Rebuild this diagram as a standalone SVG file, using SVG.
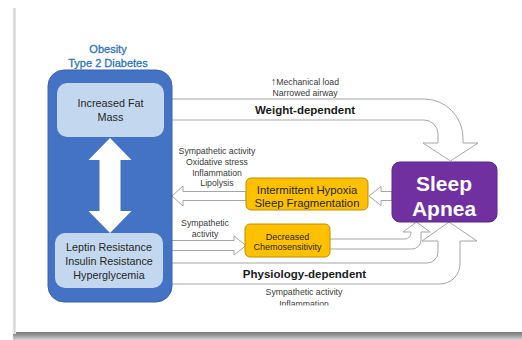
<svg xmlns="http://www.w3.org/2000/svg" width="522" height="340" viewBox="0 0 522 340">
<defs>
<style>
text{font-family:"Liberation Sans",Arial,sans-serif}
.lbl{font-size:8.7px;fill:#3a3a3a;text-anchor:middle}
.conn{fill:#fff;stroke:#a6a6a6;stroke-width:1}
.gold{fill:#ffc000;stroke:#bf9000;stroke-width:1}
.gt{fill:#262626;text-anchor:middle}
.bt{font-size:11.5px;font-weight:bold;fill:#1a1a1a;text-anchor:middle}
.inner{fill:#c3d8ef}
.it{font-size:10.8px;fill:#262626;text-anchor:middle}
</style>
<linearGradient id="shB" x1="0" y1="0" x2="0" y2="1">
<stop offset="0" stop-color="#6d6d6d"/>
<stop offset="0.5" stop-color="#9a9a9a"/>
<stop offset="1" stop-color="#d8d8d8"/>
</linearGradient>
<linearGradient id="shL" x1="0" y1="0" x2="1" y2="0">
<stop offset="0" stop-color="#ffffff"/>
<stop offset="0.6" stop-color="#d4d4d4"/>
<stop offset="1" stop-color="#ececec"/>
</linearGradient>
<clipPath id="cut"><rect x="200" y="280" width="200" height="25.5"/></clipPath>
</defs>
<rect x="0" y="0" width="522" height="340" fill="#ffffff"/>
<g id="card">
<rect x="13" y="331" width="509" height="9" fill="url(#shB)"/>
<rect x="12" y="8" width="4" height="326" fill="url(#shL)"/>
<rect x="16" y="0" width="506" height="332" fill="#ffffff"/>
</g>
<g id="connectors">
<path class="conn" d="M170,99 H424 A39,39 0 0 1 463,138 V143 H478 L450.5,161 L423,143 H438 V134 A14,14 0 0 0 424,120 H170 Z"/>
<path class="conn" d="M170,263 H427 A11,11 0 0 0 438,252 V241 H422 L449,222 L477,241 H460 V264 A20,20 0 0 1 440,284 H170 Z"/>
<path class="conn" d="M329,239 H405 A6,6 0 0 0 411,233 V232 H403 L416.5,222 L430,232 H421 V240 A9,9 0 0 1 412,249 H329 Z"/>
<path class="conn" d="M246,191.5 H183 V186 L172,196 L183,206 V200.5 H246 Z"/>
<path class="conn" d="M392,191.5 H381 V186.5 L369,196 L381,205.5 V200.5 H392 Z"/>
<path class="conn" d="M170,240.5 H234 V236 L246,245.5 L234,255 V250.5 H170 Z"/>
<text x="305" y="84.5" class="lbl"><tspan font-size="10.5">↑</tspan>Mechanical load</text>
<text x="305" y="95.5" class="lbl">Narrowed airway</text>
<text x="305" y="114" class="bt">Weight-dependent</text>
<text x="217" y="154" class="lbl">Sympathetic activity</text>
<text x="217" y="165" class="lbl">Oxidative stress</text>
<text x="217" y="175.5" class="lbl">Inflammation</text>
<text x="217" y="186" class="lbl">Lipolysis</text>
<text x="205" y="226" class="lbl">Sympathetic</text>
<text x="205" y="237" class="lbl">activity</text>
<text x="304.5" y="277.5" class="bt">Physiology-dependent</text>
<text x="304" y="295" class="lbl">Sympathetic activity</text>
<text x="304" y="307" class="lbl" clip-path="url(#cut)">Inflammation</text>
</g>
<g id="obesity">
<text x="108" y="53" font-size="11" fill="#2e75b6" stroke="#2e75b6" stroke-width="0.3" text-anchor="middle">Obesity</text>
<text x="108" y="67" font-size="11" fill="#2e75b6" stroke="#2e75b6" stroke-width="0.3" text-anchor="middle">Type 2 Diabetes</text>
<rect x="48" y="70" width="124" height="232" rx="16" fill="#4472c4" stroke="#3a63ad" stroke-width="1"/>
<path d="M110,138 L131.5,160 H120.5 V211 H131.5 L110,233 L88.5,211 H99.5 V160 H88.5 Z" fill="#ffffff"/>
</g>
<g id="fat-mass">
<rect class="inner" x="57" y="83" width="107" height="54" rx="10"/>
<text x="110.5" y="107" class="it">Increased Fat</text>
<text x="110.5" y="121" class="it">Mass</text>
</g>
<g id="resistance">
<rect class="inner" x="55" y="233" width="108" height="55" rx="10"/>
<text x="109" y="251" class="it">Leptin Resistance</text>
<text x="109" y="265" class="it">Insulin Resistance</text>
<text x="109" y="279" class="it">Hyperglycemia</text>
</g>
<g id="hypoxia">
<rect class="gold" x="246" y="178" width="122" height="32" rx="5"/>
<text x="307" y="194" class="gt" font-size="11.3">Intermittent Hypoxia</text>
<text x="307" y="207" class="gt" font-size="11.3">Sleep Fragmentation</text>
</g>
<g id="chemo">
<rect class="gold" x="245" y="224" width="85" height="33" rx="5"/>
<text x="287.5" y="239.5" class="gt" font-size="9">Decreased</text>
<text x="287.5" y="250" class="gt" font-size="9">Chemosensitivity</text>
</g>
<g id="sleep-apnea">
<rect x="392" y="162" width="105" height="60" rx="8" fill="#7030a0" stroke="#5a2682" stroke-width="1"/>
<text x="444" y="191" font-size="21" font-weight="bold" fill="#ffffff" text-anchor="middle">Sleep</text>
<text x="444" y="216" font-size="21" font-weight="bold" fill="#ffffff" text-anchor="middle">Apnea</text>
</g>
</svg>
